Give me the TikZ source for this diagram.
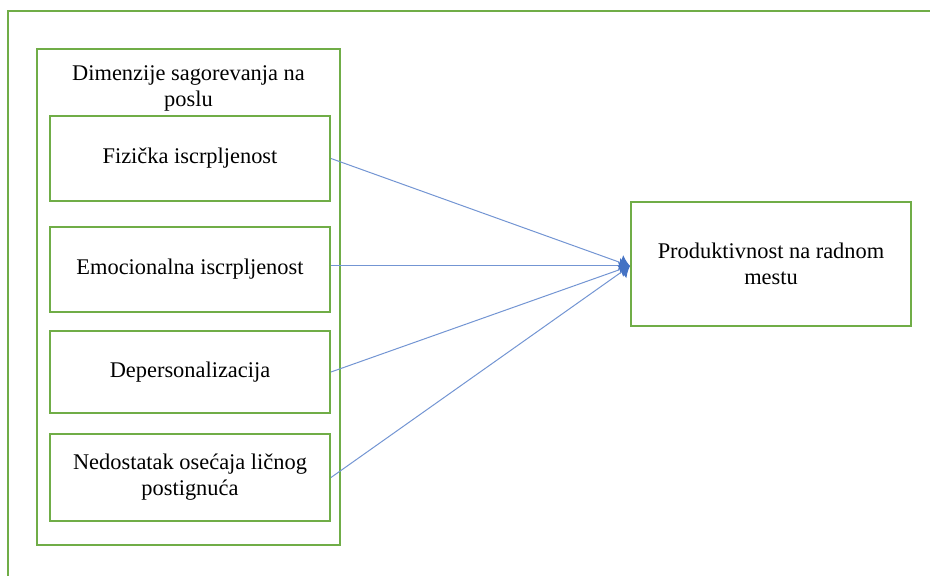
\documentclass[tikz,border=0pt]{standalone}
\usepackage{fontspec}
\setmainfont{Liberation Serif}
\usetikzlibrary{positioning,arrows.meta}
\definecolor{framegreen}{HTML}{70AD47}
\definecolor{linkblue}{HTML}{4472C4}

\begin{document}
\begin{tikzpicture}[
  x=0.5pt, y=-0.5pt,
  font=\fontsize{11.2}{13}\selectfont,
  dimbox/.style={draw=framegreen, line width=1pt, align=center, inner sep=0pt,
                 minimum width=140pt},
  groupbox/.style={draw=framegreen, line width=1pt, inner sep=0pt,
                   minimum width=151.5pt, minimum height=248pt},
  outbox/.style={dimbox, minimum height=62pt},
  link/.style={-{Latex[length=5pt, width=8pt, color=linkblue]}, draw=linkblue!75, line width=0.5pt}
]
\useasboundingbox (0,0) rectangle (930,576);
% ----- outer frame (runs off the page at right and bottom) -----
\draw[framegreen, line width=1pt] (8,576) -- (8,11) -- (930,11);
% ----- burnout dimensions, left column -----
\node[groupbox] (group) at (188.5,297) {};
\node[align=center] (grouptitle) at (188.5,88) {Dimenzije sagorevanja na\\poslu};
\node[dimbox, minimum height=42.5pt] (fizicka) at (190,158.5) {Fizička iscrpljenost};
\node[dimbox, minimum height=42.5pt] (emocionalna) at (190,269.5) {Emocionalna iscrpljenost};
\node[dimbox, minimum height=41pt] (depers) at (190,372) {Depersonalizacija};
\node[dimbox, minimum height=43.5pt] (nedostatak) at (190,477.5) {Nedostatak osećaja ličnog\\postignuća};
% ----- outcome, right -----
\node[outbox] (produkt) at (771,264) {Produktivnost na radnom\\mestu};
\coordinate (hub) at (produkt.west |- 0,266);
\draw[link] (fizicka.east) -- (hub);
\draw[link] (emocionalna.east |- hub) -- (hub);
\draw[link] (depers.east) -- (hub);
\draw[link] (nedostatak.east) -- (hub);
\end{tikzpicture}
\end{document}
